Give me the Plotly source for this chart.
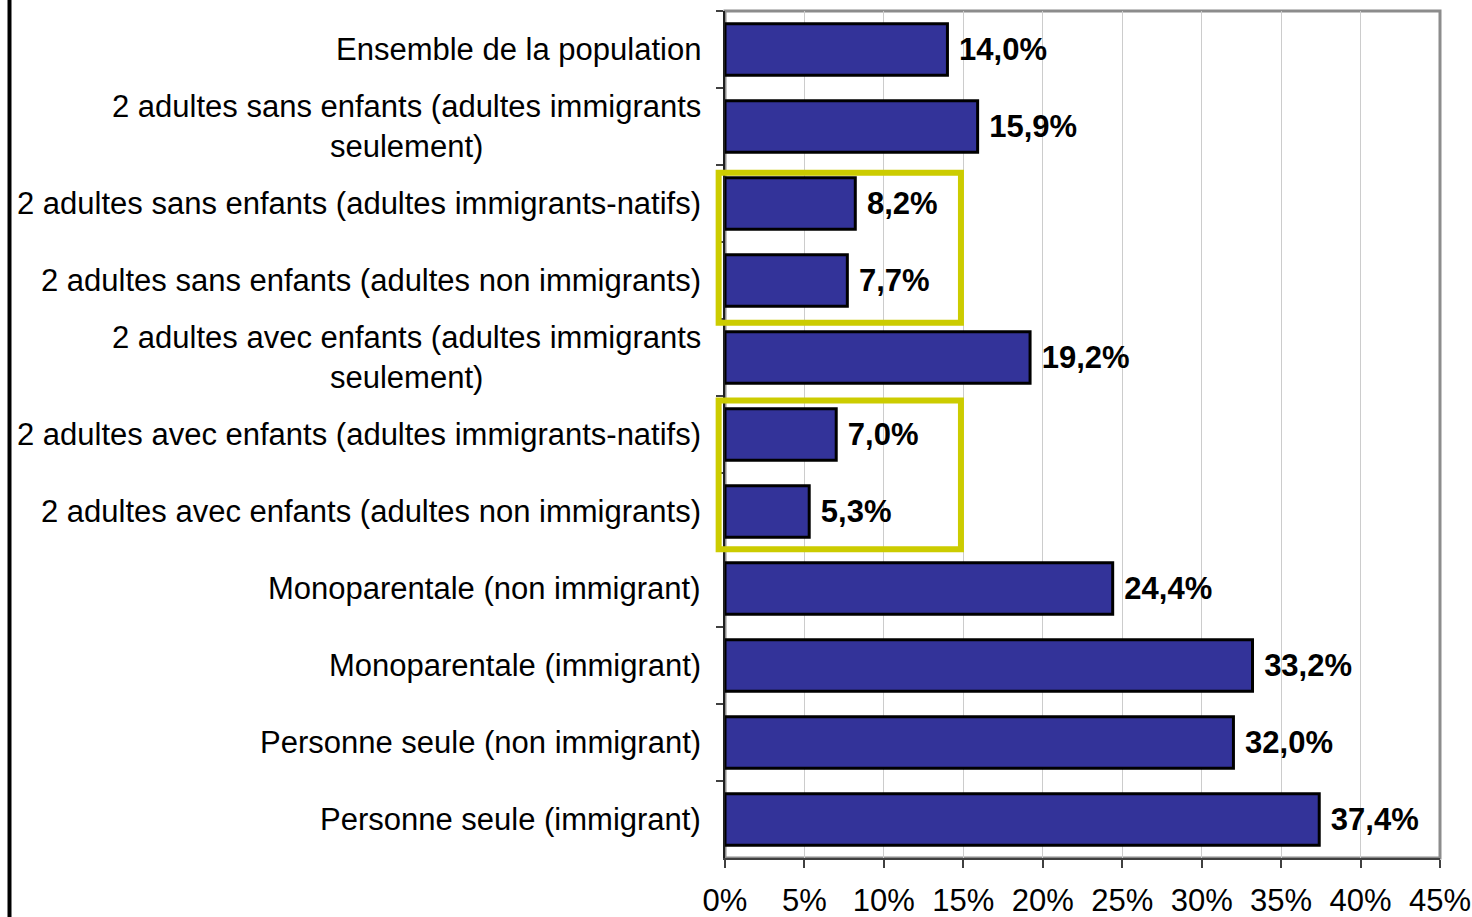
import plotly.graph_objects as go

categories = [
    "Ensemble de la population",
    "2 adultes sans enfants (adultes immigrants<br>seulement)",
    "2 adultes sans enfants (adultes immigrants-natifs)",
    "2 adultes sans enfants (adultes non immigrants)",
    "2 adultes avec enfants (adultes immigrants<br>seulement)",
    "2 adultes avec enfants (adultes immigrants-natifs)",
    "2 adultes avec enfants (adultes non immigrants)",
    "Monoparentale (non immigrant)",
    "Monoparentale (immigrant)",
    "Personne seule (non immigrant)",
    "Personne seule (immigrant)",
]
values = [14.0, 15.9, 8.2, 7.7, 19.2, 7.0, 5.3, 24.4, 33.2, 32.0, 37.4]
tick_values = [0, 5, 10, 15, 20, 25, 30, 35, 40, 45]
tick_labels = [f"{t}%" for t in tick_values]
# highlighted groups: (first row index, last row index)
highlight_groups = [(2, 3), (5, 6)]
highlight_pad = [(0.40, 0.55), (0.44, 0.49)]

FONT = "Arial, Liberation Sans, sans-serif"
FS = 31
XMAX = 45
N = len(categories)

value_text = ["\u00a0" + f"{v:.1f}".replace(".", ",") + "%" for v in values]

fig = go.Figure(go.Bar(
    x=values, y=categories, orientation="h",
    marker=dict(color="#333399", line=dict(color="black", width=3)),
    text=value_text, textposition="outside", cliponaxis=False,
    textfont=dict(family=FONT, size=FS, color="black", weight="bold"),
    hoverinfo="skip",
))

annotations = []
for c in categories:
    annotations.append(dict(
        x=0, xref="paper", y=c, yref="y", xanchor="right", yanchor="middle",
        xshift=-22, text=c, showarrow=False, align="center",
        font=dict(family=FONT, size=FS, color="black"),
    ))

def ypaper(p):
    return 1 - (p + 0.5) / N

shapes = [
    # plot area border (gray top/right)
    dict(type="rect", xref="paper", yref="paper", x0=0, x1=1, y0=0, y1=1,
         line=dict(color="#8c8c8c", width=3), layer="below"),
    # image frame line at far left
    dict(type="line", xref="paper", yref="paper", x0=-1.0007, x1=-1.0007,
         y0=-0.08, y1=1.02, line=dict(color="black", width=4)),
]
for (a, b), (pt, pb) in zip(highlight_groups, highlight_pad):
    shapes.append(dict(
        type="rect", xref="paper", yref="paper",
        x0=-0.4 / XMAX, x1=14.85 / XMAX,
        y0=ypaper(b + pb), y1=ypaper(a - pt),
        line=dict(color="#CCCC00", width=6), layer="above",
    ))

fig.update_layout(
    width=1472, height=917,
    margin=dict(l=725, r=32, t=11, b=59, autoexpand=False),
    paper_bgcolor="white", plot_bgcolor="white",
    showlegend=False, bargap=0.33,
    font=dict(family=FONT, size=FS, color="black"),
    xaxis=dict(
        range=[0, XMAX], tickvals=tick_values, ticktext=tick_labels,
        showgrid=True, gridcolor="#cccccc", gridwidth=1,
        showline=True, linecolor="#404040", linewidth=2,
        ticks="outside", ticklen=8, tickcolor="#404040", tickwidth=2,
        ticklabelstandoff=6,
        tickfont=dict(family=FONT, size=FS, color="black"),
        zeroline=False, fixedrange=True, automargin=False,
    ),
    yaxis=dict(
        type="category", categoryorder="array", categoryarray=categories,
        autorange="reversed", showticklabels=False,
        showline=True, linecolor="#202020", linewidth=2,
        ticks="outside", tickson="boundaries", ticklen=7,
        tickcolor="#404040", tickwidth=2, showgrid=False, zeroline=False,
        fixedrange=True, automargin=False,
    ),
    annotations=annotations, shapes=shapes,
)

fig.write_html(
    "out.html",
    config={"displayModeBar": False},
    post_script="document.body.style.margin='0';document.body.style.overflow='hidden';",
)
